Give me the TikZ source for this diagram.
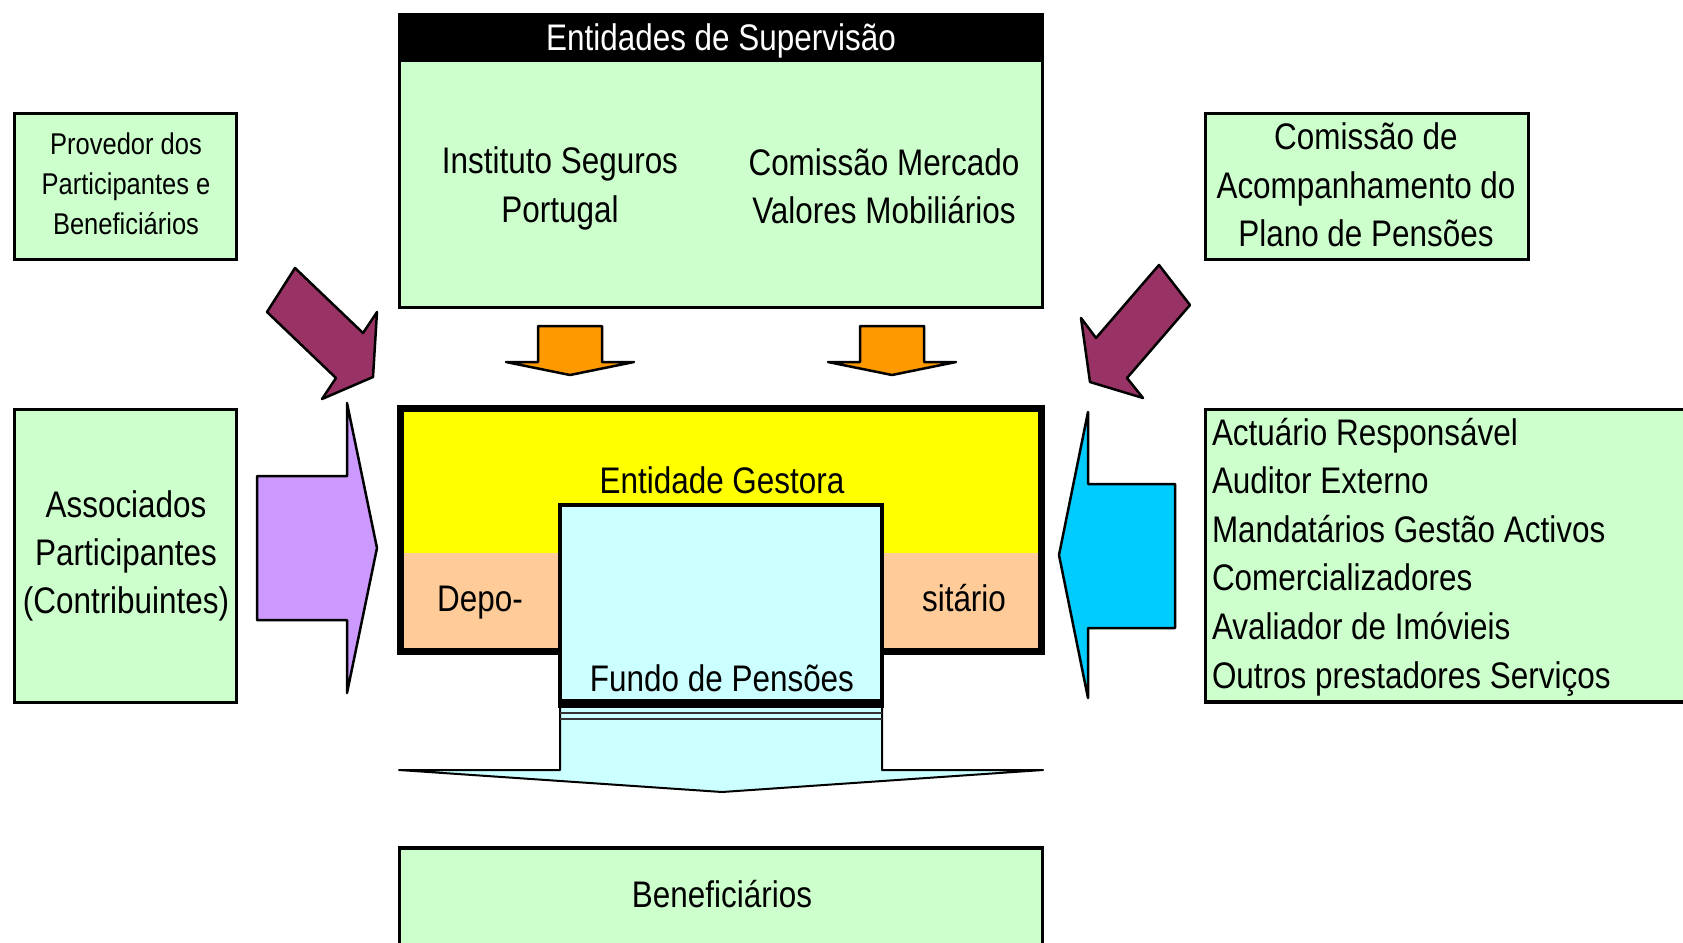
\documentclass[tikz,border=0pt]{standalone}
\usepackage{fontspec}
\setmainfont{Liberation Sans}[FakeStretch=0.85]
\newlength{\du}
\setlength{\du}{0.5pt}

\begin{document}
\begin{tikzpicture}[
  box/.style={draw=black, line width=3.5\du, fill=palegreen},
  blockarrow/.style={draw=black, line width=2.5\du, line join=round},
  txt/.style={inner sep=0pt, outer sep=0pt, align=center, font=\fontsize{18.5}{24.2}\selectfont},
  smalltxt/.style={inner sep=0pt, outer sep=0pt, align=center, font=\fontsize{15}{20}\selectfont}
]
\pgftransformxscale{1.000000}
\pgftransformyscale{-1.000000}
\definecolor{palegreen}{rgb}{0.800000, 1.000000, 0.800000}
\definecolor{gestyellow}{rgb}{1.000000, 1.000000, 0.000000}
\definecolor{depopeach}{rgb}{1.000000, 0.800000, 0.600000}
\definecolor{fundocyan}{rgb}{0.800000, 1.000000, 1.000000}
\definecolor{suporange}{rgb}{1.000000, 0.600000, 0.000000}
\definecolor{provmaroon}{rgb}{0.600000, 0.200000, 0.400000}
\definecolor{assoclilac}{rgb}{0.800000, 0.600000, 1.000000}
\definecolor{servblue}{rgb}{0.000000, 0.800000, 1.000000}
\useasboundingbox (0\du,0\du) rectangle (1683\du,943\du);
\clip (0\du,0\du) rectangle (1683\du,943\du);
% supervision
\filldraw[box,line width=3\du] (399.5\du,14.5\du) rectangle (1042.5\du,307.5\du);
\fill[black] (399.5\du,14.5\du) rectangle (1042.5\du,62\du);
\node[txt,text=white] (superv) at (721\du,41\du){Entidades de Supervisão};
\node[txt] (isp) at (560\du,188.5\du){Instituto Seguros\\Portugal};
\node[txt] (cmvm) at (884\du,186\du){Comissão Mercado\\Valores Mobiliários};
% orange arrows
\foreach \dx in {0,322}{
\begin{scope}[xshift=\dx\du]
\filldraw[blockarrow,fill=suporange] (538\du,326\du)--(602\du,326\du)--(602\du,362\du)--(634\du,362\du)--(570\du,375\du)--(506\du,362\du)--(538\du,362\du)--cycle;
\end{scope}
}
% side boxes
\filldraw[box] (14.5\du,113.5\du) rectangle (236.5\du,259.5\du);
\node[smalltxt] (prov) at (126\du,184\du){Provedor dos\\Participantes e\\Beneficiários};
\filldraw[box] (1205.5\du,113.5\du) rectangle (1528.5\du,259.5\du);
\node[txt] (cacomp) at (1366\du,185\du){Comissão de\\Acompanhamento do\\Plano de Pensões};
\filldraw[box] (14.5\du,409.5\du) rectangle (236.5\du,702.5\du);
\node[txt] (assoc) at (126\du,556\du){Associados\\Participantes\\(Contribuintes)};
\filldraw[box] (1205.5\du,409.5\du) rectangle (1700\du,702\du);
\foreach \srvname [count=\i] in {Actuário Responsável,Auditor Externo,Mandatários Gestão Activos,Comercializadores,Avaliador de Imóvieis,Outros prestadores Serviços}
  \node[txt,anchor=base west] (serv\i) at (1212\du,{(445+48.6*(\i-1))*\du}){\srvname};
% maroon arrows
\filldraw[blockarrow,fill=provmaroon] (295\du,268\du)--(363\du,333\du)--(377\du,312\du)--(373\du,377\du)--(322\du,399\du)--(336\du,378\du)--(267\du,312\du)--cycle;
\filldraw[blockarrow,fill=provmaroon] (1159\du,265\du)--(1190\du,305\du)--(1127\du,378\du)--(1143\du,398\du)--(1090\du,382\du)--(1081\du,318\du)--(1096\du,338\du)--cycle;
% lilac and blue arrows
\filldraw[blockarrow,fill=assoclilac] (347\du,403\du)--(347\du,476\du)--(257\du,476\du)--(257\du,620\du)--(347\du,620\du)--(347\du,693\du)--(377\du,548\du)--cycle;
\filldraw[blockarrow,fill=servblue] (1088\du,412\du)--(1088\du,484\du)--(1175\du,484\du)--(1175\du,628\du)--(1088\du,628\du)--(1088\du,698\du)--(1059\du,555\du)--cycle;
% entidade gestora
\fill[gestyellow] (400\du,408\du) rectangle (1041\du,553\du);
\fill[depopeach] (400\du,553\du) rectangle (1041\du,651\du);
\draw[line width=7\du] (400\du,408\du) rectangle (1041\du,651\du);
\node[txt] (gest) at (722\du,480\du){Entidade Gestora};
\node[txt,anchor=base] (depo) at (480\du,611\du){Depo-};
\node[txt,anchor=base] (sitario) at (964\du,611\du){sitário};
% fundo and down arrow
\filldraw[blockarrow,line width=2\du,fill=fundocyan] (560\du,705\du)--(560\du,770\du)--(399\du,770\du)--(722\du,792\du)--(1043\du,770\du)--(882\du,770\du)--(882\du,705\du)--cycle;
\filldraw[fill=fundocyan,line width=3.5\du] (560\du,505\du) rectangle (882\du,703\du);
\draw[line width=9\du] (558\du,703.5\du)--(884\du,703.5\du);
\draw[line width=1.2\du,black!80] (560\du,713\du)--(882\du,713\du);
\draw[line width=1.2\du,black!80] (560\du,719\du)--(882\du,719\du);
\node[txt] (fundo) at (722\du,678\du){Fundo de Pensões};
% beneficiarios
\filldraw[box] (399.5\du,848\du) rectangle (1042.5\du,960\du);
\node[txt] (benef) at (722\du,894\du){Beneficiários};
\end{tikzpicture}
\end{document}
